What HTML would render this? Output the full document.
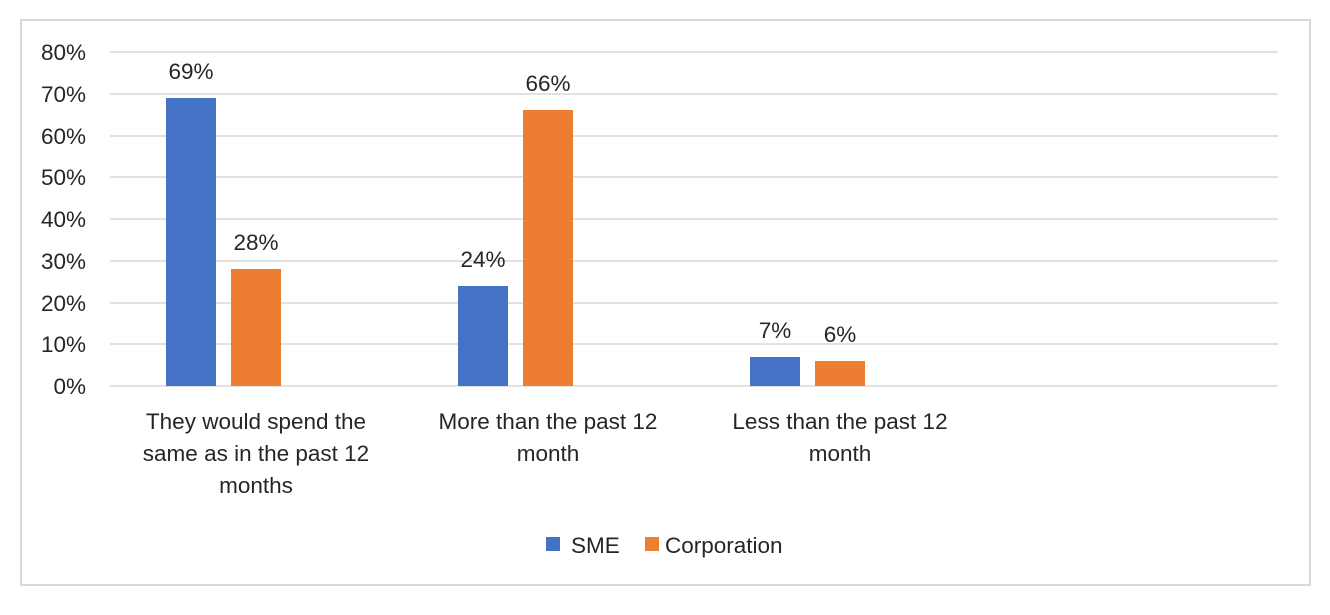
<!DOCTYPE html>
<html><head><style>body{margin:0;background:#fff}</style></head><body>
<svg width="1330" height="610" xmlns="http://www.w3.org/2000/svg" font-family="Liberation Sans, sans-serif" fill="#262626">
<rect x="21" y="20" width="1289" height="565" fill="#fff" stroke="#d9d9d9" stroke-width="2"/>
<g stroke="#d9d9d9" stroke-width="1.5">
<line x1="110" x2="1278" y1="52" y2="52"/><line x1="110" x2="1278" y1="94" y2="94"/>
<line x1="110" x2="1278" y1="136" y2="136"/><line x1="110" x2="1278" y1="177" y2="177"/>
<line x1="110" x2="1278" y1="219" y2="219"/><line x1="110" x2="1278" y1="261" y2="261"/>
<line x1="110" x2="1278" y1="303" y2="303"/><line x1="110" x2="1278" y1="344" y2="344"/>
<line x1="110" x2="1278" y1="386" y2="386"/>
</g>
<g font-size="22.5" text-anchor="end">
<text x="86" y="60">80%</text><text x="86" y="102">70%</text><text x="86" y="144">60%</text>
<text x="86" y="185">50%</text><text x="86" y="227">40%</text><text x="86" y="269">30%</text>
<text x="86" y="311">20%</text><text x="86" y="352">10%</text><text x="86" y="394">0%</text>
</g>
<g fill="#4472c4">
<rect x="166" y="98" width="50" height="288"/><rect x="458" y="286" width="50" height="100"/><rect x="750" y="357" width="50" height="29"/>
</g>
<g fill="#ed7d31">
<rect x="231" y="269" width="50" height="117"/><rect x="523" y="110" width="50" height="276"/><rect x="815" y="361" width="50" height="25"/>
</g>
<g font-size="22.5" text-anchor="middle">
<text x="191" y="79">69%</text><text x="256" y="250">28%</text>
<text x="483" y="267">24%</text><text x="548" y="91">66%</text>
<text x="775" y="338">7%</text><text x="840" y="342">6%</text>
<text x="256" y="429">They would spend the</text><text x="256" y="461">same as in the past 12</text><text x="256" y="493">months</text>
<text x="548" y="429">More than the past 12</text><text x="548" y="461">month</text>
<text x="840" y="429">Less than the past 12</text><text x="840" y="461">month</text>
</g>
<rect x="546" y="537" width="14" height="14" fill="#4472c4"/>
<text x="571" y="553" font-size="22.5">SME</text>
<rect x="645" y="537" width="14" height="14" fill="#ed7d31"/>
<text x="665" y="553" font-size="22.5">Corporation</text>
</svg>
</body></html>
